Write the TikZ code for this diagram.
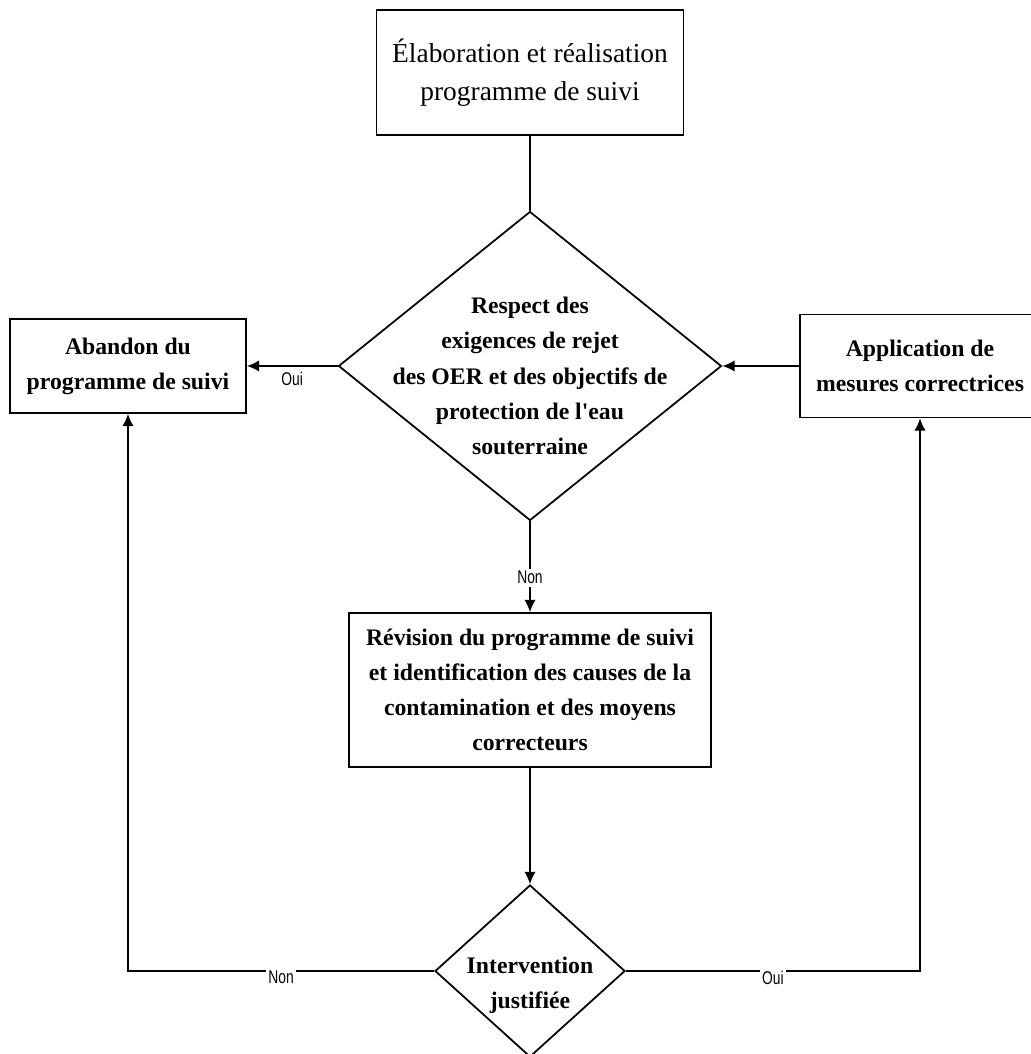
\documentclass[tikz,border=0pt]{standalone}
\usepackage{fontspec}
\setmainfont{Liberation Serif}
\newfontfamily\labelfont[FakeStretch=0.75]{Liberation Sans}
\usepackage{tikz}
\usetikzlibrary{positioning, shapes.geometric, arrows.meta}
\def\titlefont{\fontsize{15.6}{21.6}\selectfont}
\def\boxfont{\bfseries\fontsize{13.5}{20}\selectfont}
\tikzstyle{plan} = [rectangle, minimum width=6.14cm, minimum height=2.5cm, align=center, draw=black, line width=1pt, font=\titlefont]
\tikzstyle{process} = [rectangle, minimum height=1.88cm, align=center, draw=black, line width=1pt, font=\boxfont]
\tikzstyle{decision} = [diamond, inner sep=0pt, draw=black, line width=1pt]
\tikzstyle{dtext} = [align=center, font=\boxfont]
\tikzstyle{answer} = [font=\labelfont\fontsize{10.5}{12}\selectfont, inner sep=1.5pt]
\tikzstyle{arrow} = [line width=1pt,-{Latex[length=7pt,width=6.5pt]}]
\tikzstyle{link} = [line width=1pt]

\begin{document}
\begin{tikzpicture}[node distance=6cm]
\useasboundingbox (-10.6,1.45) rectangle (10.02,-19.63);

\node (plan) [plan] {Élaboration et réalisation\\programme de suivi};

\node (respect) [decision, minimum width=7.66cm, minimum height=6.18cm, below of=plan, yshift=0.13cm] {};
\node (respecttext) [dtext, yshift=-0.2cm] at (respect) {Respect des\\exigences de rejet\\des OER et des objectifs de\\protection de l\textquotesingle eau\\souterraine};
\draw [link] (plan) -- (respect);

\node (abandon) [process, minimum width=4.72cm, left of=respect, xshift=-2.04cm] {Abandon du\\programme de suivi};
\draw [arrow] (respect) -- node[answer, below, yshift=-0.05cm] {Oui} (abandon);

\node (application) [process, minimum width=4.8cm, minimum height=2.06cm, right of=respect, xshift=1.8cm] {Application de\\mesures correctrices};
\draw [arrow] (application) -- (respect);

\node (revision) [process, minimum width=7.24cm, minimum height=3.08cm, below of=respect, yshift=-0.48cm] {Révision du programme de suivi\\et identification des causes de la\\contamination et des moyens\\correcteurs};
\draw [arrow] (respect) -- node[answer, fill=white, pos=0.62] {Non} (revision);

\node (intervention) [decision, minimum width=3.8cm, minimum height=3.44cm, below of=revision, yshift=0.38cm] {};
\node (interventiontext) [dtext, yshift=-0.28cm] at (intervention) {Intervention\\justifiée};
\draw [arrow] (revision) -- (intervention);

\draw [arrow] (intervention) -| node[answer, fill=white, pos=0.25, yshift=-0.13cm] {Non} (abandon);
\draw [arrow] (intervention) -| node[answer, fill=white, pos=0.25, yshift=-0.13cm] {Oui} (application);

\end{tikzpicture}
\end{document}
